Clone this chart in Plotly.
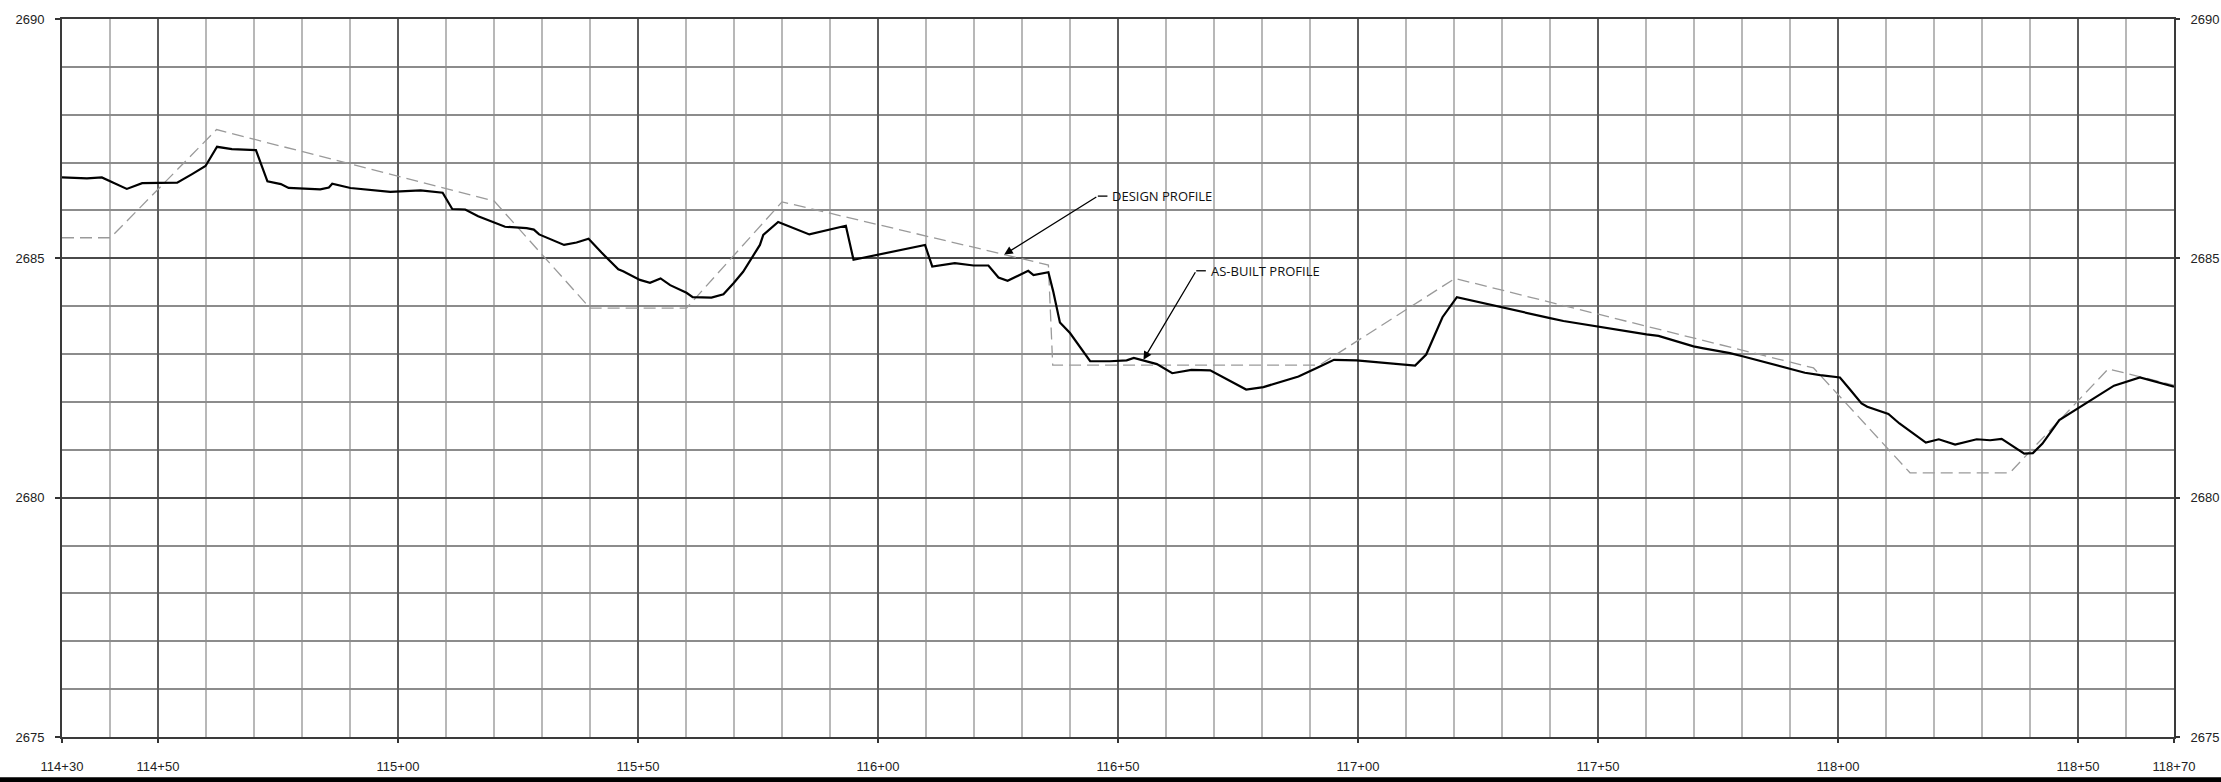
import plotly.graph_objects as go

# ---- data (station in ft, elevation in ft) ----
asbuilt_sta = [11430.0, 11435.2, 11438.3, 11443.5, 11446.7, 11454.0, 11457.1, 11459.9, 11462.3, 11465.4,
               11470.4, 11472.8, 11475.6, 11477.2, 11483.8, 11485.6, 11486.3, 11490.1, 11498.4, 11504.7,
               11509.3, 11511.3, 11514.0, 11516.7, 11522.3, 11526.8, 11528.3, 11529.4, 11534.6, 11537.2,
               11539.7, 11542.4, 11545.9, 11546.9, 11550.4, 11552.5, 11554.7, 11556.7, 11560.1, 11561.4,
               11565.3, 11567.8, 11569.9, 11571.9, 11575.4, 11576.1, 11579.2, 11585.7, 11593.3, 11594.9,
               11609.8, 11611.3, 11616.0, 11619.9, 11623.0, 11625.1, 11627.0, 11631.3, 11632.4, 11635.5,
               11636.5, 11637.9, 11640.0, 11644.2, 11648.3, 11651.8, 11653.3, 11655.3, 11658.1, 11661.3,
               11665.3, 11669.2, 11676.7, 11680.3, 11684.4, 11687.6, 11691.4, 11695.0, 11699.7, 11706.3,
               11711.9, 11714.2, 11717.6, 11720.6, 11730.0, 11740.0, 11742.8, 11750.5, 11760.1, 11762.6,
               11769.9, 11772.0, 11777.5, 11780.3, 11789.3, 11793.1, 11796.3, 11800.4, 11802.5, 11804.9,
               11806.1, 11810.5, 11812.8, 11814.7, 11818.3, 11821.0, 11824.4, 11828.9, 11831.7, 11834.1,
               11838.8, 11840.6, 11842.6, 11846.1, 11849.7, 11853.2, 11857.5, 11862.9, 11870.0]
asbuilt_elev = [2686.69, 2686.67, 2686.69, 2686.45, 2686.57, 2686.58, 2686.76, 2686.93, 2687.33, 2687.28,
                2687.26, 2686.61, 2686.55, 2686.47, 2686.44, 2686.48, 2686.56, 2686.47, 2686.39, 2686.42,
                2686.37, 2686.03, 2686.02, 2685.88, 2685.66, 2685.63, 2685.60, 2685.50, 2685.28, 2685.33,
                2685.41, 2685.12, 2684.77, 2684.73, 2684.55, 2684.49, 2684.58, 2684.44, 2684.28, 2684.19,
                2684.18, 2684.25, 2684.48, 2684.72, 2685.28, 2685.49, 2685.76, 2685.50, 2685.68, 2684.97,
                2685.28, 2684.83, 2684.90, 2684.85, 2684.85, 2684.60, 2684.53, 2684.74, 2684.65, 2684.71,
                2684.31, 2683.66, 2683.44, 2682.85, 2682.85, 2682.87, 2682.92, 2682.86, 2682.79, 2682.60,
                2682.67, 2682.66, 2682.26, 2682.31, 2682.43, 2682.53, 2682.71, 2682.88, 2682.87, 2682.81,
                2682.76, 2682.99, 2683.77, 2684.19, 2683.97, 2683.75, 2683.69, 2683.56, 2683.41, 2683.38,
                2683.16, 2683.12, 2683.02, 2682.95, 2682.71, 2682.61, 2682.56, 2682.51, 2682.26, 2681.97,
                2681.90, 2681.75, 2681.55, 2681.41, 2681.15, 2681.22, 2681.11, 2681.22, 2681.20, 2681.23,
                2680.92, 2680.93, 2681.13, 2681.62, 2681.85, 2682.07, 2682.34, 2682.51, 2682.32]

design_sta = [11430.0, 11440.1, 11462.2, 11520.0, 11540.0, 11560.1, 11580.0, 11635.5, 11636.4,
              11692.0, 11720.2, 11794.9, 11815.0, 11835.8, 11856.3, 11870.0]
design_elev = [2685.43, 2685.43, 2687.69, 2686.20, 2683.96, 2683.96, 2686.18, 2684.86, 2682.77,
               2682.77, 2684.58, 2682.71, 2680.52, 2680.52, 2682.69, 2682.35]

x_tick_vals = [11430, 11450, 11500, 11550, 11600, 11650, 11700, 11750, 11800, 11850, 11870]
x_tick_text = ["114+30", "114+50", "115+00", "115+50", "116+00", "116+50",
               "117+00", "117+50", "118+00", "118+50", "118+70"]
y_tick_vals = [2675, 2680, 2685, 2690]
y_tick_text = ["2675", "2680", "2685", "2690"]

x_range = [11430, 11870]
y_range = [2675, 2690]

label_design = "DESIGN PROFILE"
label_asbuilt = "AS-BUILT PROFILE"
# annotation anchors (tip, tail) in data units
design_tip = (11626.3, 2685.08)
design_tail = (11645.8, 2686.30)
asbuilt_tip = (11655.3, 2682.88)
asbuilt_tail = (11666.3, 2684.74)

tick_font = dict(family="Liberation Sans, Arial, sans-serif", size=13, color="#222222")
note_font = dict(family="Open Sans, sans-serif", size=13, color="#111111")

fig = go.Figure()
fig.add_trace(go.Scatter(x=design_sta, y=design_elev, mode="lines", name=label_design,
                         line=dict(color="#9a9a9a", width=1.3, dash="12px,6px"),
                         showlegend=False, hoverinfo="skip"))
fig.add_trace(go.Scatter(x=asbuilt_sta, y=asbuilt_elev, mode="lines", name=label_asbuilt,
                         yaxis="y2", line=dict(color="black", width=2.2),
                         showlegend=False, hoverinfo="skip"))

fig.update_layout(
    width=2221, height=782,
    margin=dict(l=62, r=47, t=19, b=45, pad=0, autoexpand=False),
    paper_bgcolor="white", plot_bgcolor="white",
    xaxis=dict(range=x_range, tickvals=x_tick_vals, ticktext=x_tick_text, automargin=False,
               ticks="outside", ticklen=4, tickcolor="#333333", tickwidth=1.5,
               showgrid=True, gridcolor="#5c5c5c", gridwidth=1.5,
               minor=dict(dtick=10, tick0=11430, showgrid=True, gridcolor="#b8b8b8", gridwidth=1.5),
               showline=True, linecolor="#3a3a3a", linewidth=2, mirror=True,
               zeroline=False, tickfont=tick_font, ticklabelstandoff=12),
    yaxis=dict(range=y_range, tickvals=y_tick_vals, ticktext=y_tick_text, automargin=False,
               ticks="outside", ticklen=5, tickcolor="#333333", tickwidth=1.5,
               showgrid=True, gridcolor="#4a4a4a", gridwidth=1.5,
               minor=dict(dtick=1, tick0=2675, showgrid=True, gridcolor="#8c8c8c", gridwidth=1.5),
               showline=True, linecolor="#3a3a3a", linewidth=2, mirror=True,
               zeroline=False, tickfont=tick_font, ticklabelstandoff=8),
    yaxis2=dict(range=y_range, tickvals=y_tick_vals, ticktext=y_tick_text, automargin=False,
                overlaying="y", side="right", anchor="x",
                ticks="outside", ticklen=5, tickcolor="#333333", tickwidth=1.5,
                showgrid=False, showline=False, zeroline=False,
                tickfont=tick_font, ticklabelstandoff=8),
)

for tip, tail, txt in [(design_tip, design_tail, label_design),
                       (asbuilt_tip, asbuilt_tail, label_asbuilt)]:
    fig.add_annotation(x=tip[0], y=tip[1], ax=tail[0], ay=tail[1],
                       xref="x", yref="y", axref="x", ayref="y", text="",
                       showarrow=True, arrowhead=2, arrowsize=1.3, arrowwidth=1.3,
                       arrowcolor="black")
    fig.add_shape(type="line", xref="x", yref="y", x0=tail[0], x1=tail[0] + 2.0,
                  y0=tail[1], y1=tail[1], line=dict(color="black", width=1.3))
    fig.add_annotation(x=tail[0] + 2.6, y=tail[1], xref="x", yref="y", text=txt,
                       showarrow=False, xanchor="left", yanchor="middle", font=note_font)

# thick border line at the bottom of the sheet
fig.add_shape(type="rect", xref="paper", yref="paper", x0=-0.05, x1=1.05,
              y0=-0.0640, y1=-0.0560, fillcolor="black", line=dict(width=0), layer="above")

fig.write_html("out.html", config={"displayModeBar": False},
               post_script="document.body.style.margin='0';document.body.style.overflow='hidden';")
